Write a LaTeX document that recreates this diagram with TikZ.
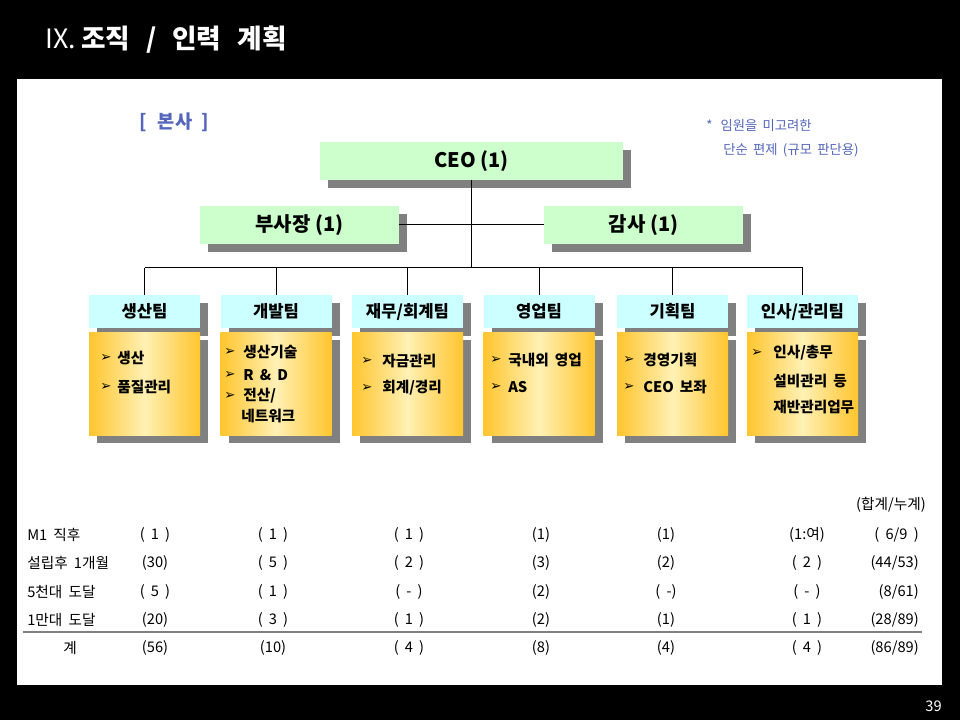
\documentclass[tikz,border=0pt]{standalone}
\usepackage{fontspec}
\setmainfont{Noto Sans CJK KR}
\newfontfamily\symfont{DejaVu Sans}
\usetikzlibrary{shadows}
\definecolor{ceogreen}{HTML}{CCFFCC}
\definecolor{teamcyan}{HTML}{CCFFFF}
\definecolor{memoblue}{HTML}{5566BB}
\definecolor{boxorange}{HTML}{FFC52E}
\definecolor{boxlight}{HTML}{FFF0B4}
\definecolor{rulegray}{HTML}{808080}
\newcommand\widespaces{\spaceskip=0.42em\relax}
\begin{document}
\begin{tikzpicture}[x=0.75pt,y=-0.75pt]
  \tikzstyle{shadebox}=[drop shadow={shadow xshift=6pt,shadow yshift=-6pt,fill=rulegray,opacity=1}]
  \tikzstyle{topbox}=[shadebox, fill=ceogreen, minimum height=28.5pt, inner sep=0pt, font=\fontsize{15}{17}\selectfont\bfseries]
  \tikzstyle{teambox}=[shadebox, fill=teamcyan, minimum width=83.25pt, minimum height=24.75pt, inner sep=0pt, font=\fontsize{12.5}{14}\selectfont\bfseries]
  \tikzstyle{taskbox}=[shadebox, left color=boxorange, right color=boxorange, middle color=boxlight, minimum width=83.25pt, minimum height=77.25pt]
  \tikzstyle{tasktext}=[anchor=west, inner sep=0pt, font=\fontsize{11}{12}\selectfont\bfseries, execute at begin node=\widespaces]
  \tikzstyle{bullet}=[anchor=west, inner sep=0pt, font=\symfont\fontsize{10}{10}\selectfont]
  \tikzstyle{cell}=[inner sep=0pt, font=\fontsize{11}{13}\selectfont, execute at begin node=\widespaces]
  \tikzstyle{memo}=[anchor=west, inner sep=0pt, text=memoblue, font=\fontsize{10}{12}\selectfont]
  \tikzstyle{link}=[line width=0.75pt]

  % page
  \useasboundingbox (0,0) rectangle (960,720);
  \fill[black] (0,0) rectangle (960,720);
  \fill[white] (17,79) rectangle (942,685);

  \node[anchor=west, inner sep=0pt, text=white, font=\fontsize{20}{24}\selectfont] (title) at (45,40) {IX.\hspace{0.2em}\textbf{조직\hspace{0.6em}/\hspace{0.6em}인력\hspace{0.6em}계획}};
  \node[anchor=east, inner sep=0pt, text=white, font=\fontsize{11}{12}\selectfont] (pageno) at (942,706) {39};

  \node[anchor=west, inner sep=0pt, text=memoblue, font=\fontsize{14}{16}\selectfont\bfseries] (hq) at (139,122) {[\hspace{0.6em}본사\hspace{0.5em}]};
  \node[memo] (memo1) at (706,126) {*\hspace{0.6em}임원을\hspace{0.4em}미고려한};
  \node[memo] (memo2) at (723,150) {단순\hspace{0.4em}편제\hspace{0.4em}(규모\hspace{0.4em}판단용)};

  % top management
  \node[topbox, minimum width=227.25pt] (ceo) at (471.5,161) {CEO (1)};
  \node[topbox, minimum width=149.25pt] (vp) at (299.5,225) {부사장 (1)};
  \node[topbox, minimum width=149.25pt] (audit) at (643.5,225) {감사 (1)};

  % teams
  \foreach \x/\name [count=\i] in {144.5/생산팀, 276/개발팀, 407.5/{재무/회계팀}, 539/영업팀, 672.5/기획팀, 802.5/{인사/관리팀}}{
    \node[teambox] (team\i) at (\x,311.5) {\name};
    \node[taskbox] (task\i) at (\x,383.5) {};
  }

  \coordinate (bus) at (0,268);
  \draw[link] (ceo.south) -- (ceo.south |- bus);
  \draw[link] (vp.east) -- (audit.west);
  \draw[link] (team1.north |- bus) -- (team6.north |- bus);
  \foreach \i in {1,...,6}
    \draw[link] (team\i.north) -- (team\i.north |- bus);

  % tasks
  \foreach \x/\y [count=\i] in {100/358, 100/387, 224/352, 224/375, 224/396, 361/361, 361/388,
      490/360, 490/387, 623/360, 623/387, 751/353}
    \node[bullet] (bul\i) at (\x,\y) {➢};
  \foreach \x/\y/\t [count=\i] in {117/358/생산, 117/387/품질관리,
      243/352/생산기술, 243/375/{R \& D}, 243/396/{전산/}, 241/416/네트워크,
      382/361/자금관리, 382/388/{회계/경리},
      508/360/{국내외 영업}, 508/387/AS,
      643/360/경영기획, 643/387/{CEO 보좌},
      773/353/{인사/총무}, 773/381/{설비관리 등}, 773/407/재반관리업무}
    \node[tasktext] (item\i) at (\x,\y) {\t};

  % headcount table
  \node[cell, anchor=east] (sumhead) at (926,505) {(합계/누계)};
  \foreach \y/\lab [count=\r] in {535/{M1 직후}, 563/{설립후 1개월}, 592/{5천대 도달}, 620/{1만대 도달}}
    \node[cell, anchor=west] (lab\r) at (27,\y) {\lab};
  \node[cell] (lab5) at (70,648) {계};
  \foreach \y/\va/\vb/\vc/\vd/\ve/\vf/\vg [count=\r] in {
      535/{( 1 )}/{( 1 )}/{( 1 )}/{(1)}/{(1)}/{(1:여)}/{( 6/9 )},
      563/{(30)}/{( 5 )}/{( 2 )}/{(3)}/{(2)}/{( 2 )}/{(44/53)},
      592/{( 5 )}/{( 1 )}/{( - )}/{(2)}/{( -)}/{( - )}/{(8/61)},
      620/{(20)}/{( 3 )}/{( 1 )}/{(2)}/{(1)}/{( 1 )}/{(28/89)},
      648/{(56)}/{(10)}/{( 4 )}/{(8)}/{(4)}/{( 4 )}/{(86/89)}}{
    \node[cell] (r\r c1) at (155,\y) {\va};
    \node[cell] (r\r c2) at (273,\y) {\vb};
    \node[cell] (r\r c3) at (409,\y) {\vc};
    \node[cell] (r\r c4) at (541,\y) {\vd};
    \node[cell] (r\r c5) at (666,\y) {\ve};
    \node[cell] (r\r c6) at (807,\y) {\vf};
    \node[cell, anchor=east] (r\r c7) at (919,\y) {\vg};
  }
  \draw[rulegray, line width=1.5pt] (23,632) -- (922,632);
\end{tikzpicture}
\end{document}
